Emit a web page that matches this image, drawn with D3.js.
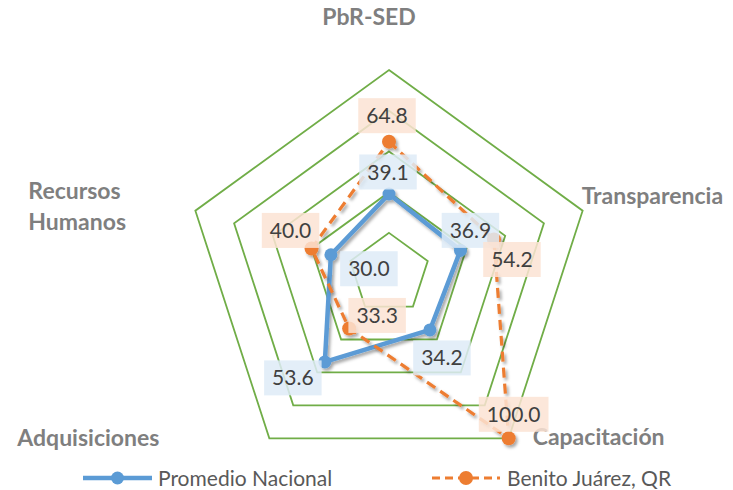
<!DOCTYPE html>
<html><head><meta charset="utf-8">
<script src="https://cdn.jsdelivr.net/npm/d3@7"></script>
<style>
html,body{margin:0;padding:0;background:#fff;}
svg{display:block;font-family:Lato,"Open Sans",sans-serif;}
</style></head>
<body><svg id="chart" width="733" height="490"></svg>
<script>
// ---- data ----
const categories = ["PbR-SED", "Transparencia", "Capacitación", "Adquisiciones", "Recursos Humanos"];
const seriesNames = ["Promedio Nacional", "Benito Juárez, QR"];
const promedioNacional = [39.1, 36.9, 34.2, 53.6, 30.0];
const benitoJuarez = [64.8, 54.2, 100.0, 33.3, 40.0];
const ringTicks = [20, 40, 60, 80, 100];

// ---- layout (pixel nudges for labels, not data) ----
const labelNudge = [
  [[-1,-22],[10,-20],[12,28],[-32,16],[38,14]],
  [[-2,-26],[18,20],[5,-24],[28,-13],[-21,-18]]
];

const svg = d3.select("#chart");
const cx = 389, cy = 273.6, R = 203.6;
const r = d3.scaleLinear().domain([0, 100]).range([0, R]);
const angle = d3.scaleLinear().domain([0, categories.length]).range([0, 2*Math.PI]);
const pt = (i, v) => {
  const a = angle(i);
  return [cx + r(v)*Math.sin(a), cy - r(v)*Math.cos(a)];
};

const defs = svg.append("defs");
const f = defs.append("filter").attr("id","shadow").attr("x","-20%").attr("y","-20%").attr("width","140%").attr("height","140%");
f.append("feDropShadow").attr("dx",2).attr("dy",2.5).attr("stdDeviation",1.8).attr("flood-color","#000").attr("flood-opacity",0.35);

// rings
const ringLine = d3.line().curve(d3.curveLinearClosed);
svg.append("g").selectAll("path").data(ringTicks).join("path")
  .attr("d", t => ringLine(categories.map((c,i) => pt(i,t))))
  .attr("fill","none").attr("stroke","#70AD47").attr("stroke-width",1.8);

// axis labels
const axisLabel = [
  {dx:-20, dy:-45, anchor:"middle", lines:["PbR-SED"]},
  {dx:-1, dy:-7, anchor:"start", lines:["Transparencia"]},
  {dx:24, dy:7, anchor:"start", lines:["Capacitación"]},
  {dx:-252, dy:8, anchor:"start", lines:["Adquisiciones"]},
  {dx:-167, dy:-12, anchor:"start", lines:["Recursos","Humanos"]}
];
const axG = svg.append("g");
categories.forEach((c,i) => {
  const [x,y] = pt(i,100);
  const L = axisLabel[i];
  const t = axG.append("text").attr("x", x+L.dx).attr("y", y+L.dy)
    .attr("text-anchor", L.anchor).attr("font-weight","bold")
    .attr("font-size",23).attr("fill","#7F7F7F");
  L.lines.forEach((ln,k) => t.append("tspan").attr("x", x+L.dx).attr("dy", k===0?0:31).text(ln));
});

const seriesData = [promedioNacional, benitoJuarez];
const styles = [
  {color:"#5B9BD5", width:4.5, dash:null, mr:6.5, box:"#DEEBF7"},
  {color:"#ED7D31", width:3.2, dash:"10,6", mr:7, box:"#FBE3D3"}
];

const lineGen = d3.line().curve(d3.curveLinearClosed);
seriesData.forEach((vals, s) => {
  const st = styles[s];
  const g = svg.append("g").attr("filter","url(#shadow)");
  g.append("path").attr("d", lineGen(vals.map((v,i) => pt(i,v))))
    .attr("fill","none").attr("stroke",st.color).attr("stroke-width",st.width)
    .attr("stroke-dasharray",st.dash).attr("stroke-linejoin","round");
  g.selectAll("circle").data(vals).join("circle")
    .attr("cx",(v,i)=>pt(i,v)[0]).attr("cy",(v,i)=>pt(i,v)[1])
    .attr("r",st.mr).attr("fill",st.color);
});

// data labels
seriesData.forEach((vals, s) => {
  const st = styles[s];
  const g = svg.append("g");
  vals.forEach((v,i) => {
    const [x,y] = pt(i,v);
    const lx = x + labelNudge[s][i][0], ly = y + labelNudge[s][i][1];
    const rect = g.append("rect");
    const t = g.append("text").attr("x",lx).attr("y",ly).attr("dy","0.36em")
      .attr("text-anchor","middle").attr("font-size",21).attr("fill","#404040")
      .text(d3.format(".1f")(v));
    const bb = t.node().getBBox();
    const w = bb.width + 16, h = 35;
    rect.attr("x", lx - w/2).attr("y", ly - h/2).attr("width", w).attr("height", h)
      .attr("fill", st.box).attr("fill-opacity",0.85);
  });
});

// legend
const legend = [
  {x1:83, x2:152, tx:158},
  {x1:432, x2:500, tx:507}
];
const ly = 478;
seriesNames.forEach((name, s) => {
  const st = styles[s], L = legend[s];
  const g = svg.append("g");
  g.append("line").attr("x1",L.x1).attr("x2",L.x2).attr("y1",ly).attr("y2",ly)
    .attr("stroke",st.color).attr("stroke-width",st.width).attr("stroke-dasharray",st.dash ? "8,5" : null);
  g.append("circle").attr("cx",(L.x1+L.x2)/2).attr("cy",ly).attr("r",st.mr).attr("fill",st.color);
  g.append("text").attr("x",L.tx).attr("y",ly).attr("dy","0.36em")
    .attr("font-size",21).attr("fill","#595959").text(name);
});
</script></body></html>
